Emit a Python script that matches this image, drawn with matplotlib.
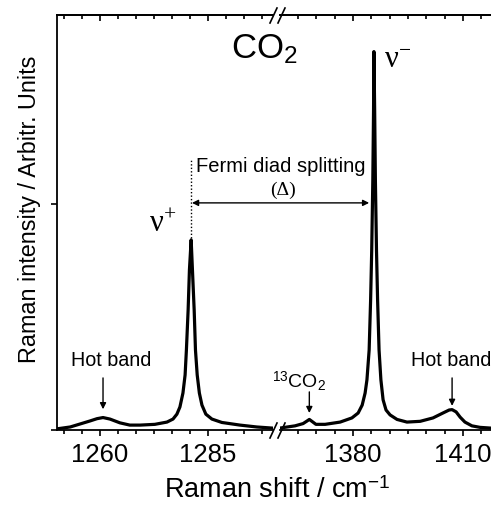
import numpy as np
import matplotlib
matplotlib.use("Agg")
import matplotlib.pyplot as plt
from matplotlib.ticker import FixedLocator, NullFormatter
from matplotlib.patches import ConnectionPatch
from matplotlib.lines import Line2D

plt.rcParams['font.family'] = ['Liberation Sans', 'DejaVu Sans']
plt.rcParams['mathtext.fontset'] = 'custom'
plt.rcParams['mathtext.rm'] = 'Liberation Serif'
plt.rcParams['mathtext.sf'] = 'Liberation Sans'
plt.rcParams['mathtext.it'] = 'Liberation Serif:italic'

# ---------------- data ----------------
left_shift = [1250.0, 1253.1, 1255.4, 1257.7, 1259.3, 1260.7, 1262.3, 1264.6, 1266.9,
              1269.3, 1272.7, 1275.5, 1276.9, 1277.8, 1278.5, 1279.2, 1279.7, 1280.0,
              1280.4, 1280.7, 1281.1, 1281.4, 1281.8, 1282.1, 1282.5, 1283.0, 1283.6,
              1284.5, 1285.9, 1288.2, 1292.4, 1296.3, 1300.0]
left_intensity = [0.003, 0.008, 0.016, 0.024, 0.030, 0.033, 0.029, 0.019, 0.013,
                  0.013, 0.015, 0.021, 0.029, 0.042, 0.061, 0.098, 0.146, 0.212,
                  0.318, 0.424, 0.504, 0.424, 0.318, 0.212, 0.146, 0.098, 0.066,
                  0.042, 0.029, 0.020, 0.013, 0.008, 0.005]

right_shift = [1360.0, 1364.2, 1366.4, 1367.5, 1368.1, 1368.8, 1369.9, 1372.4, 1376.5,
               1379.7, 1381.4, 1382.5, 1383.3, 1383.8, 1384.4, 1384.8, 1385.1, 1385.4,
               1385.6, 1385.7, 1385.9, 1386.1, 1386.4, 1386.7, 1387.1, 1387.6, 1388.2,
               1389.0, 1390.1, 1392.0, 1394.7, 1398.3, 1401.8, 1404.5, 1406.2, 1407.0,
               1408.1, 1409.2, 1410.5, 1412.4, 1414.6, 1417.6, 1420.0]
right_intensity = [0.005, 0.011, 0.017, 0.024, 0.028, 0.023, 0.015, 0.015, 0.021,
                   0.032, 0.045, 0.066, 0.098, 0.133, 0.212, 0.345, 0.477, 0.663,
                   0.849, 1.003, 0.849, 0.663, 0.477, 0.345, 0.212, 0.133, 0.080,
                   0.053, 0.040, 0.028, 0.021, 0.023, 0.032, 0.045, 0.053, 0.054,
                   0.048, 0.034, 0.021, 0.011, 0.007, 0.005, 0.005]

left_major = [1260, 1285]
left_major_labels = ['1260', '1285']
left_minor = [1251.67, 1255.83, 1264.17, 1268.33, 1272.5, 1276.67, 1280.83,
              1289.17, 1293.33, 1297.5]
right_major = [1380, 1410]
right_major_labels = ['1380', '1410']
right_minor = [1365, 1370, 1375, 1385, 1390, 1395, 1400, 1405, 1415]

nu_plus = 1281.1
nu_minus = 1385.7
hot_left = 1260.7
hot_right = 1407.0
c13_peak = 1368.1

# ---------------- figure ----------------
W, H = 491, 508
fig = plt.figure(figsize=(W / 100, H / 100), dpi=100)


def fx(px):
    return px / W


def fy(py):
    return 1 - py / H


ybot, ytop = 430, 15
ax1 = fig.add_axes([fx(56.8), fy(ybot), (272.8 - 56.8) / W, (ybot - ytop) / H])
ax2 = fig.add_axes([fx(279.6), fy(ybot), (499.8 - 279.6) / W, (ybot - ytop) / H])

lw_curve = 2.3
ax1.plot(left_shift, left_intensity, color='black', lw=lw_curve, solid_joinstyle='round')
ax2.plot(right_shift, right_intensity, color='black', lw=lw_curve, solid_joinstyle='round')

ax1.set_xlim(1250, 1300)
ax2.set_xlim(1360, 1420)
for ax in (ax1, ax2):
    ax.set_ylim(0, 1.1)
    for s in ax.spines.values():
        s.set_linewidth(1.3)

ax1.spines['right'].set_visible(False)
ax2.spines['left'].set_visible(False)
ax2.spines['right'].set_visible(False)

tick_font = 18.5
for ax, maj, lab, mnr in ((ax1, left_major, left_major_labels, left_minor),
                          (ax2, right_major, right_major_labels, right_minor)):
    ax.set_xticks(maj)
    ax.set_xticklabels(lab)
    ax.xaxis.set_minor_locator(FixedLocator(mnr))
    ax.tick_params(axis='x', which='both', direction='out', top=False, bottom=True,
                   labelsize=tick_font, width=1.2, pad=5.5)
    ax.tick_params(axis='x', which='major', length=4.0)
    ax.tick_params(axis='x', which='minor', length=3.0)
    sec = ax.secondary_xaxis('top')
    sec.xaxis.set_major_locator(FixedLocator(maj))
    sec.xaxis.set_minor_locator(FixedLocator(mnr))
    sec.xaxis.set_major_formatter(NullFormatter())
    sec.tick_params(axis='x', which='both', direction='in', width=1.2)
    sec.tick_params(axis='x', which='major', length=4.0)
    sec.tick_params(axis='x', which='minor', length=3.0)
    sec.spines['top'].set_linewidth(1.3)

ax1.set_yticks([0, 0.6])
ax1.set_yticklabels([])
ax1.tick_params(axis='y', direction='out', length=4.0, width=1.2, right=False)
ax2.tick_params(axis='y', left=False, right=False, labelleft=False)

# break marks
for (x0, y0, x1, y1) in [(270, 23, 277, 8), (278, 23, 285, 8),
                         (270, 438, 277, 423), (278, 438, 285, 423)]:
    fig.add_artist(Line2D([fx(x0), fx(x1)], [fy(y0), fy(y1)], color='black', lw=1.2,
                          transform=fig.transFigure))

# labels
fig.text(fx(277), fy(491), r'Raman shift / cm$^{\mathsf{-1}}$', fontsize=19.5,
         ha='center', va='center')
fig.text(fx(30), fy(209), 'Raman intensity / Arbitr. Units', fontsize=16.8,
         rotation=90, ha='center', va='center')

fig.text(fx(264), fy(49), r'$\mathsf{CO}_{\mathsf{2}}$', fontsize=25, ha='center', va='center')

fig.text(fx(281), fy(166), 'Fermi diad splitting', fontsize=14.5, ha='center', va='center')
fig.text(fx(283), fy(190), '(Δ)', fontsize=14, family='Liberation Serif',
         ha='center', va='center')

fig.text(fx(163), fy(224), r'$\mathrm{\nu}^{+}$', fontsize=22, ha='center', va='center')
fig.text(fx(398), fy(60), r'$\mathrm{\nu}^{-}$', fontsize=22, ha='center', va='center')

fig.text(fx(111), fy(361), 'Hot band', fontsize=14.2, ha='center', va='center')
fig.text(fx(451), fy(361), 'Hot band', fontsize=14.2, ha='center', va='center')
fig.text(fx(299), fy(381), r'$^{\mathsf{13}}\mathsf{CO}_{\mathsf{2}}$', fontsize=14,
         ha='center', va='center')

arrow_kw = dict(arrowstyle='-|>', color='black', lw=1.0, mutation_scale=9,
                shrinkA=0, shrinkB=0)
ax1.annotate('', xy=(hot_left, 0.055), xytext=(hot_left, 0.138), arrowprops=arrow_kw)
ax2.annotate('', xy=(hot_right, 0.064), xytext=(hot_right, 0.138), arrowprops=arrow_kw)
ax2.annotate('', xy=(c13_peak, 0.045), xytext=(c13_peak, 0.101), arrowprops=arrow_kw)

# dotted marker above nu+
ax1.plot([nu_plus, nu_plus], [0.51, 0.716], ls=(0, (1, 1.5)), lw=1.0, color='black')

con = ConnectionPatch(xyA=(nu_plus + 0.2, 0.602), coordsA=ax1.transData,
                      xyB=(nu_minus - 1.3, 0.602), coordsB=ax2.transData,
                      arrowstyle='<|-|>', color='black', lw=1.0, mutation_scale=9,
                      shrinkA=0, shrinkB=0)
fig.add_artist(con)

fig.savefig('out.png', dpi=100)
